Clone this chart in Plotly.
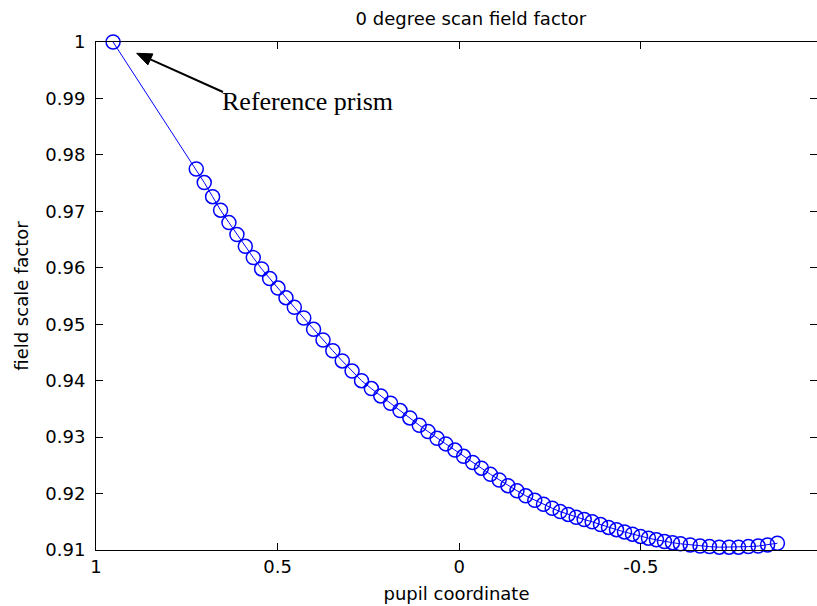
import plotly.graph_objects as go

# ---- data ----
pupil = [0.953,
         0.724, 0.702, 0.679, 0.657, 0.634, 0.612, 0.589, 0.567, 0.544, 0.522, 0.499, 0.477, 0.454,
         0.428, 0.401, 0.375, 0.348, 0.322, 0.295, 0.269, 0.242, 0.216, 0.189, 0.163, 0.136, 0.110,
         0.086, 0.061, 0.037, 0.012, -0.012, -0.037, -0.061, -0.086, -0.110, -0.134, -0.159, -0.183,
         -0.208, -0.232, -0.256,
         -0.278, -0.300, -0.322, -0.344, -0.366, -0.389, -0.411, -0.433, -0.455, -0.477, -0.499,
         -0.521, -0.543, -0.565, -0.587, -0.609,
         -0.636, -0.663, -0.689, -0.716, -0.743, -0.769, -0.796, -0.823, -0.849, -0.876]
scale = [1.0,
         0.9775, 0.9751, 0.9726, 0.9702, 0.9680, 0.9659, 0.9638, 0.9618, 0.9598, 0.9581, 0.9564, 0.9547, 0.9530,
         0.9511, 0.9491, 0.9472, 0.9453, 0.9435, 0.9417, 0.9400, 0.9386, 0.9373, 0.9360, 0.9347, 0.9334, 0.9321,
         0.9310, 0.9298, 0.9288, 0.9277, 0.9266, 0.9255, 0.9245, 0.9234, 0.9224, 0.9214, 0.9205, 0.9196,
         0.9188, 0.9181, 0.9174,
         0.9168, 0.9163, 0.9158, 0.9154, 0.9150, 0.9145, 0.9140, 0.9136, 0.9132, 0.9128, 0.9124,
         0.9121, 0.9118, 0.9115, 0.9113, 0.9111,
         0.9109, 0.9107, 0.9106, 0.9105, 0.9105, 0.9105, 0.9106, 0.9107, 0.9109, 0.9112]

x_ticks = [1, 0.5, 0, -0.5]
x_tick_labels = ["1", "0.5", "0", "-0.5"]
y_ticks = [0.91, 0.92, 0.93, 0.94, 0.95, 0.96, 0.97, 0.98, 0.99, 1.0]
y_tick_labels = ["0.91", "0.92", "0.93", "0.94", "0.95", "0.96", "0.97", "0.98", "0.99", "1"]

title_text = "0 degree scan field factor"
x_label = "pupil coordinate"
y_label = "field scale factor"
note_text = "Reference prism"
arrow_tip = (0.888, 0.998)
note_pos = (0.6586, 0.9894)

BLUE = "#0000ff"
FONT = "DejaVu Sans"

fig = go.Figure()
fig.add_trace(go.Scatter(
    x=pupil, y=scale, mode="lines+markers",
    line=dict(color=BLUE, width=1),
    marker=dict(symbol="circle-open", size=14, color=BLUE, line=dict(color=BLUE, width=1.5)),
    cliponaxis=False, showlegend=False, hoverinfo="skip"))
# dummy trace so that the right-hand tick axis is drawn
fig.add_trace(go.Scatter(x=[None], y=[None], yaxis="y2", showlegend=False, hoverinfo="skip"))

axis_common = dict(ticks="inside", ticklen=7, tickwidth=1, tickcolor="black",
                   showgrid=False, zeroline=False)

fig.update_layout(
    width=817, height=606,
    margin=dict(l=96, r=0, t=42, b=56),
    paper_bgcolor="white", plot_bgcolor="white",
    font=dict(family=FONT, size=18, color="black"),
    title=dict(text=title_text, x=0.52, xref="paper", xanchor="center",
               y=1 - 19 / 606, yref="container", yanchor="middle",
               font=dict(family=FONT, size=18, color="black")),
    xaxis=dict(range=[1, -0.985], tickvals=x_ticks, ticktext=x_tick_labels,
               showline=True, linecolor="black", linewidth=1, mirror="ticks",
               ticklabelstandoff=0,
               title=dict(text=x_label, standoff=11, font=dict(family=FONT, size=18)),
               **axis_common),
    yaxis=dict(range=[0.91, 1.0], tickvals=y_ticks, ticktext=y_tick_labels,
               showline=True, linecolor="black", linewidth=1,
               ticklabelstandoff=6,
               title=dict(text=y_label, standoff=12, font=dict(family=FONT, size=18)),
               **axis_common),
    yaxis2=dict(overlaying="y", side="right", range=[0.91, 1.0], tickvals=y_ticks,
                showticklabels=False, showline=False, **axis_common),
    shapes=[
        dict(type="line", xref="x", yref="y", xsizemode="pixel", ysizemode="pixel",
             xanchor=arrow_tip[0], yanchor=arrow_tip[1],
             x0=13.7, y0=-6.1, x1=86.3, y1=-38.7,
             line=dict(color="black", width=2)),
        dict(type="path", xref="x", yref="y", xsizemode="pixel", ysizemode="pixel",
             xanchor=arrow_tip[0], yanchor=arrow_tip[1],
             path="M0,0 L16.2,-0.6 L11.2,-11.6 Z",
             fillcolor="black", line=dict(color="black", width=1)),
    ],
    annotations=[
        dict(x=note_pos[0], y=note_pos[1], xref="x", yref="y", text=note_text,
             showarrow=False, xanchor="left", yanchor="middle",
             font=dict(family="Liberation Serif", size=26, color="black")),
    ],
)

fig.write_html("out.html")
